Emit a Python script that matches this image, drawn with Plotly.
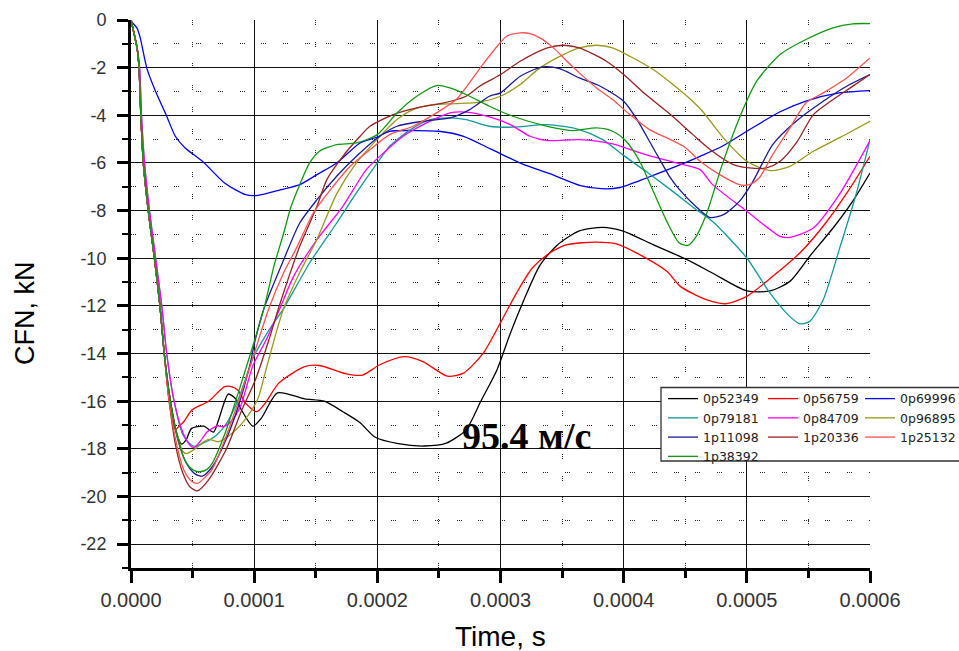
import numpy as np
import plotly.graph_objects as go

# ---------------- data (time in microseconds, CFN in kN) ----------------
names = ["0p52349", "0p56759", "0p69996", "0p79181", "0p84709",
         "0p96895", "1p11098", "1p20336", "1p25132", "1p38392"]
colors = ["#000000", "#ff0000", "#0000ff", "#119a9a", "#ff00ff",
          "#9a9a1a", "#1a1a99", "#992222", "#ff5050", "#119911"]

t_0p52349 = [0, 5, 6.5, 8, 10, 14, 19, 23.5, 27, 32, 38, 41, 45, 49, 59, 67, 71, 79, 85, 90,
             99, 106, 119, 141, 157, 172, 186, 198, 217, 238, 256, 272, 284, 297, 308, 319, 332, 346, 364, 383,
             399, 424, 451, 472, 500, 519, 535, 551, 570, 586, 600]
v_0p52349 = [0, -1.2, -2, -4, -6, -8, -10, -12, -14, -16, -17.5, -17.8, -17.6, -17.15, -17.05, -17.3, -16.8, -15.7, -15.9, -16.4,
             -17.05, -16.7, -15.65, -15.9, -16.0, -16.44, -16.9, -17.5, -17.78, -17.88, -17.76, -17.2, -16.0, -14.7, -13.15, -11.75, -10.3, -9.45, -8.85, -8.7,
             -8.85, -9.43, -10.05, -10.62, -11.37, -11.37, -10.97, -9.92, -8.73, -7.6, -6.42]

t_0p56759 = [0, 5, 6.5, 8, 10, 14, 19, 23.5, 27, 31, 36, 39, 43, 49.5, 63, 76, 82, 87, 93, 102,
             109, 120, 141, 153, 175, 188, 202, 222, 237, 257, 270, 286, 299, 313, 326, 340, 354, 378, 394, 413,
             435, 446, 467, 483, 500, 521, 543, 564, 583, 600]
v_0p56759 = [0, -1.2, -2, -4, -6, -8, -10, -12, -14, -16, -17.2, -17.05, -16.85, -16.37, -16.0, -15.39, -15.4, -15.55, -16.08, -16.44,
             -16.08, -15.24, -14.55, -14.5, -14.85, -14.9, -14.47, -14.13, -14.34, -14.95, -14.82, -13.98, -12.8, -11.46, -10.4, -9.78, -9.43, -9.32, -9.4, -9.85,
             -10.55, -11.18, -11.74, -11.91, -11.6, -10.76, -9.78, -8.52, -7.12, -5.72]

t_0p69996 = [0, 1, 5, 7.5, 13, 20, 29, 36, 44, 58, 76, 93, 103, 122, 137, 151, 167, 186, 200, 210,
             230, 250, 270, 292, 318, 340, 365, 382, 397, 420, 440, 462, 480, 500, 527, 548, 575, 600]
v_0p69996 = [0, -0.1, -0.35, -0.75, -2.05, -3.0, -4.04, -4.88, -5.37, -5.93, -6.84, -7.33, -7.36, -7.12, -6.91, -6.49, -6.0, -5.16, -4.91, -4.67,
             -4.64, -4.67, -4.88, -5.41, -6.05, -6.45, -6.95, -7.08, -7.03, -6.6, -6.2, -5.72, -5.3, -4.67, -3.85, -3.4, -3.06, -2.96]

t_0p79181 = [0, 5, 7, 8.5, 11, 15, 20, 25, 29, 35, 42, 48, 52, 57, 63, 70, 78, 88, 99, 111,
             124, 145, 167, 183, 200, 210, 227, 243, 259, 272, 291, 310, 338, 364, 383, 399, 418, 438, 459, 472,
             500, 516, 527, 535, 543, 551, 562, 575, 589, 600]
v_0p79181 = [0, -1.2, -2, -4, -6, -8, -10, -12, -14, -16, -17.4, -17.8, -17.9, -17.8, -17.65, -17.4, -16.9, -15.8, -14.2, -13.1,
             -12.1, -10.2, -8.52, -7.26, -6.0, -5.3, -4.6, -4.18, -4.11, -4.18, -4.46, -4.5, -4.39, -4.6, -5.02, -5.65, -6.35, -7.12, -7.96, -8.45,
             -9.99, -11.25, -12.0, -12.45, -12.75, -12.65, -11.74, -9.64, -7.26, -5.02]

t_0p84709 = [0, 5, 7, 8.5, 11, 15, 20, 25, 29, 35, 42, 48, 51, 56, 62, 70, 75, 81, 89, 99,
             110, 121, 132, 151, 172, 191, 205, 221, 240, 259, 272, 291, 308, 324, 338, 364, 391, 418, 445, 462,
             472, 500, 527, 535, 554, 575, 600]
v_0p84709 = [0, -1.2, -2, -4, -6, -8, -10, -12, -14, -16, -17.3, -17.85, -17.95, -17.7, -17.28, -17.04, -17.07, -16.86, -16.2, -14.5,
             -13.4, -12.1, -10.76, -9.22, -7.82, -6.28, -5.58, -4.88, -4.32, -3.9, -3.87, -4.07, -4.39, -4.88, -5.06, -5.02, -5.2, -5.65, -6.03, -6.28,
             -6.9, -8.03, -9.08, -9.12, -8.73, -7.33, -5.06]

t_0p96895 = [0, 5, 6.5, 8, 10, 14, 19, 23.5, 27, 32, 37, 42, 45, 52, 58, 63, 71, 83, 95, 103,
             110, 118, 124, 137, 151, 167, 183, 200, 216, 229, 245, 264, 283, 300, 316, 332, 351, 364, 378, 391,
             405, 424, 440, 456, 464, 481, 500, 519, 535, 554, 575, 600]
v_0p96895 = [0, -1.2, -2, -4, -6, -8, -10, -12, -14, -16, -17.3, -18.1, -18.2, -18.0, -17.75, -17.6, -17.7, -17.3, -16.6, -15.9,
             -14.6, -13.1, -12.1, -10.6, -9.2, -7.3, -6.0, -5.0, -4.18, -3.76, -3.55, -3.51, -3.45, -3.2, -2.71, -2.01, -1.45, -1.17, -1.06, -1.17,
             -1.52, -2.08, -2.71, -3.41, -3.83, -4.95, -5.93, -6.32, -6.14, -5.51, -4.95, -4.25]

t_1p11098 = [0, 5, 6.5, 8, 10, 14, 19, 23.5, 27, 32, 38, 45, 52, 58, 66, 77, 87, 96, 101, 108,
             124, 137, 151, 167, 183, 200, 216, 237, 259, 275, 291, 300, 316, 334, 348, 364, 381, 400, 410, 424,
             438, 445, 459, 470, 481, 494, 505, 521, 540, 562, 581, 600]
v_1p11098 = [0, -1.2, -2, -4, -6, -8, -10, -12, -14, -16, -17.6, -18.6, -19.05, -19.14, -18.75, -17.63, -16.23, -14.6, -13.4, -12.1,
             -10.06, -8.52, -7.54, -6.56, -5.72, -4.95, -4.46, -4.25, -4.11, -3.76, -3.2, -3.06, -2.36, -1.97, -2.04, -2.43, -2.78, -3.41, -4.11, -5.37,
             -6.63, -7.1, -7.85, -8.29, -8.17, -7.61, -6.77, -5.23, -4.25, -3.41, -2.78, -2.29]

t_1p20336 = [0, 5, 6.5, 8, 10, 14, 19, 23.5, 27, 31, 36, 42, 48, 54, 63, 77, 90, 101, 112, 121,
             137, 151, 159, 172, 186, 194, 213, 232, 254, 272, 283, 300, 316, 338, 351, 364, 386, 400, 418, 438,
             456, 472, 489, 502, 516, 527, 541, 554, 568, 584, 600]
v_1p20336 = [0, -1.2, -2, -4, -6, -8, -10, -12, -14, -16, -17.8, -19.0, -19.6, -19.76, -19.3, -18.05, -16.37, -15.1, -13.42, -11.9,
             -9.5, -7.82, -6.7, -5.72, -4.88, -4.46, -3.97, -3.69, -3.48, -3.2, -2.78, -2.29, -1.73, -1.17, -1.06, -1.17, -1.73, -2.29, -3.13, -3.97,
             -4.8, -5.51, -6.07, -6.21, -6.21, -5.93, -5.09, -3.97, -3.41, -2.85, -2.29]

t_1p25132 = [0, 5, 6.5, 8, 10, 14, 19, 23.5, 27, 31, 37, 43, 49, 54, 60, 66, 77, 88, 100, 112,
             124, 135, 148, 162, 178, 194, 210, 229, 248, 264, 283, 294, 305, 316, 324, 332, 343, 354, 364, 378,
             391, 405, 421, 438, 450, 462, 478, 494, 502, 510, 521, 535, 548, 562, 581, 600]
v_1p25132 = [0, -1.2, -2, -4, -6, -8, -10, -12, -14, -16, -17.8, -18.9, -19.35, -19.45, -19.2, -18.85, -17.5, -15.9, -14.0, -12.1,
             -10.6, -9.5, -8.1, -7.12, -6.14, -5.44, -4.81, -4.46, -3.9, -3.34, -2.05, -1.31, -0.68, -0.54, -0.57, -0.75, -1.17, -1.73, -2.22, -2.85,
             -3.34, -3.97, -4.6, -5.02, -5.35, -5.93, -6.49, -6.91, -6.91, -6.63, -5.65, -4.53, -3.48, -3.06, -2.43, -1.59]

t_1p38392 = [0, 5, 6.5, 8, 10, 14, 19, 23.5, 27, 32, 38, 45, 51, 56, 62, 66, 76, 87, 98, 108,
             116, 124, 130, 137, 145, 153, 167, 183, 200, 216, 232, 248, 259, 275, 291, 310, 338, 359, 378, 391,
             402, 413, 424, 435, 445, 452, 458, 467, 480, 494, 508, 527, 548, 570, 586, 600]
v_1p38392 = [0, -1.2, -2, -4, -6, -8, -10, -12, -14, -16, -17.6, -18.6, -18.9, -18.96, -18.85, -18.6, -17.4, -15.66, -13.84, -12.1,
             -10.34, -8.94, -7.82, -6.91, -6.0, -5.51, -5.23, -5.16, -4.81, -3.9, -3.2, -2.75, -2.85, -3.2, -3.62, -4.04, -4.46, -4.64, -4.53, -4.67,
             -5.09, -5.93, -7.19, -8.45, -9.35, -9.46, -9.15, -8.17, -6.07, -4.11, -2.57, -1.45, -0.82, -0.33, -0.16, -0.15]

series_t = [t_0p52349, t_0p56759, t_0p69996, t_0p79181, t_0p84709,
            t_0p96895, t_1p11098, t_1p20336, t_1p25132, t_1p38392]
series_v = [v_0p52349, v_0p56759, v_0p69996, v_0p79181, v_0p84709,
            v_0p96895, v_1p11098, v_1p20336, v_1p25132, v_1p38392]

x_tickvals = [0, 0.0001, 0.0002, 0.0003, 0.0004, 0.0005, 0.0006]
x_ticktext = ["0.0000", "0.0001", "0.0002", "0.0003", "0.0004", "0.0005", "0.0006"]
y_tickvals = [0, -2, -4, -6, -8, -10, -12, -14, -16, -18, -20, -22]
y_ticktext = ["0", "-2", "-4", "-6", "-8", "-10", "-12", "-14", "-16", "-18", "-20", "-22"]
x_title = "Time, s"
y_title = "CFN, kN"
annotation_text = "95.4 м/с"

# legend laid out in 3 columns (row-major order as in the original)
legend_ids = ["legend", "legend2", "legend3"]

# ---------------- figure ----------------
fig = go.Figure()
for i, (name, col, tt, vv) in enumerate(zip(names, colors, series_t, series_v)):
    fig.add_trace(go.Scatter(
        x=np.array(tt) * 1e-6, y=vv, name=name, mode="lines",
        line=dict(color=col, width=1.3, shape="spline", smoothing=0.7),
        legend=legend_ids[i % 3],
    ))

tick_font = dict(family="Liberation Sans, Arial, sans-serif", color="#333333")
leg_font = dict(family="DejaVu Sans, sans-serif", size=12.5, color="#222222")
leg_top = 0.3358
leg_common = dict(y=leg_top, xanchor="left", yanchor="top", orientation="v",
                  bgcolor="rgba(0,0,0,0)", borderwidth=0, font=leg_font,
                  itemwidth=30, tracegroupgap=0, traceorder="normal")

fig.update_layout(
    width=959, height=651, autosize=False,
    margin=dict(l=131, r=89, t=20, b=83, autoexpand=False),
    paper_bgcolor="white", plot_bgcolor="white",
    showlegend=True,
    legend=dict(x=0.7199, **leg_common),
    legend2=dict(x=0.8552, **leg_common),
    legend3=dict(x=0.9865, **leg_common),
    xaxis=dict(
        range=[0, 0.0006], tickmode="array", tickvals=x_tickvals, ticktext=x_ticktext,
        showline=True, linecolor="black", linewidth=3, mirror=False,
        ticks="outside", ticklen=12, tickwidth=3, tickcolor="black",
        showgrid=True, gridcolor="#111111", gridwidth=1.3, zeroline=False,
        tickfont=dict(size=20, **tick_font), ticklabelstandoff=0,
        minor=dict(dtick=0.00005, tick0=0, ticks="outside", ticklen=7, tickwidth=3, tickcolor="black",
                   showgrid=True, gridcolor="#222222", gridwidth=1,
                   griddash="1px,1px,1px,1px,1px,16.7px"),
    ),
    yaxis=dict(
        range=[-23, 0], tickmode="array", tickvals=y_tickvals, ticktext=y_ticktext,
        showline=True, linecolor="black", linewidth=3, mirror=False,
        ticks="outside", ticklen=11, tickwidth=3, tickcolor="black",
        showgrid=True, gridcolor="#111111", gridwidth=1.3, zeroline=False,
        tickfont=dict(size=18, **tick_font), ticklabelstandoff=7,
        minor=dict(dtick=1, tick0=0, ticks="outside", ticklen=6, tickwidth=2, tickcolor="black",
                   showgrid=True, gridcolor="#222222", gridwidth=1,
                   griddash="1px,1px,1px,1px,1px,16.7px"),
    ),
)

# legend frame
fig.add_shape(type="rect", xref="paper", yref="paper",
              x0=0.7172, x1=1.13, y0=0.1953, y1=0.3294,
              line=dict(color="#333333", width=1.3), fillcolor="white", layer="above")

# axis titles
fig.add_annotation(x=0.5, y=-0.1241, xref="paper", yref="paper", xanchor="center", yanchor="middle",
                   text=x_title, showarrow=False,
                   font=dict(family="Liberation Sans, Arial, sans-serif", size=28, color="black"))
fig.add_annotation(x=-0.1435, y=0.4653, xref="paper", yref="paper", xanchor="center", yanchor="middle",
                   text=y_title, showarrow=False, textangle=-90,
                   font=dict(family="Liberation Sans, Arial, sans-serif", size=27, color="black"))

# speed label
fig.add_annotation(
    x=0.000267, y=-17.48, xref="x", yref="y", xanchor="left", yanchor="middle",
    text="<b>" + annotation_text + "</b>", showarrow=False,
    font=dict(family="Liberation Serif, Times New Roman, serif", size=38, color="black"),
)

fig.write_html("out.html")
